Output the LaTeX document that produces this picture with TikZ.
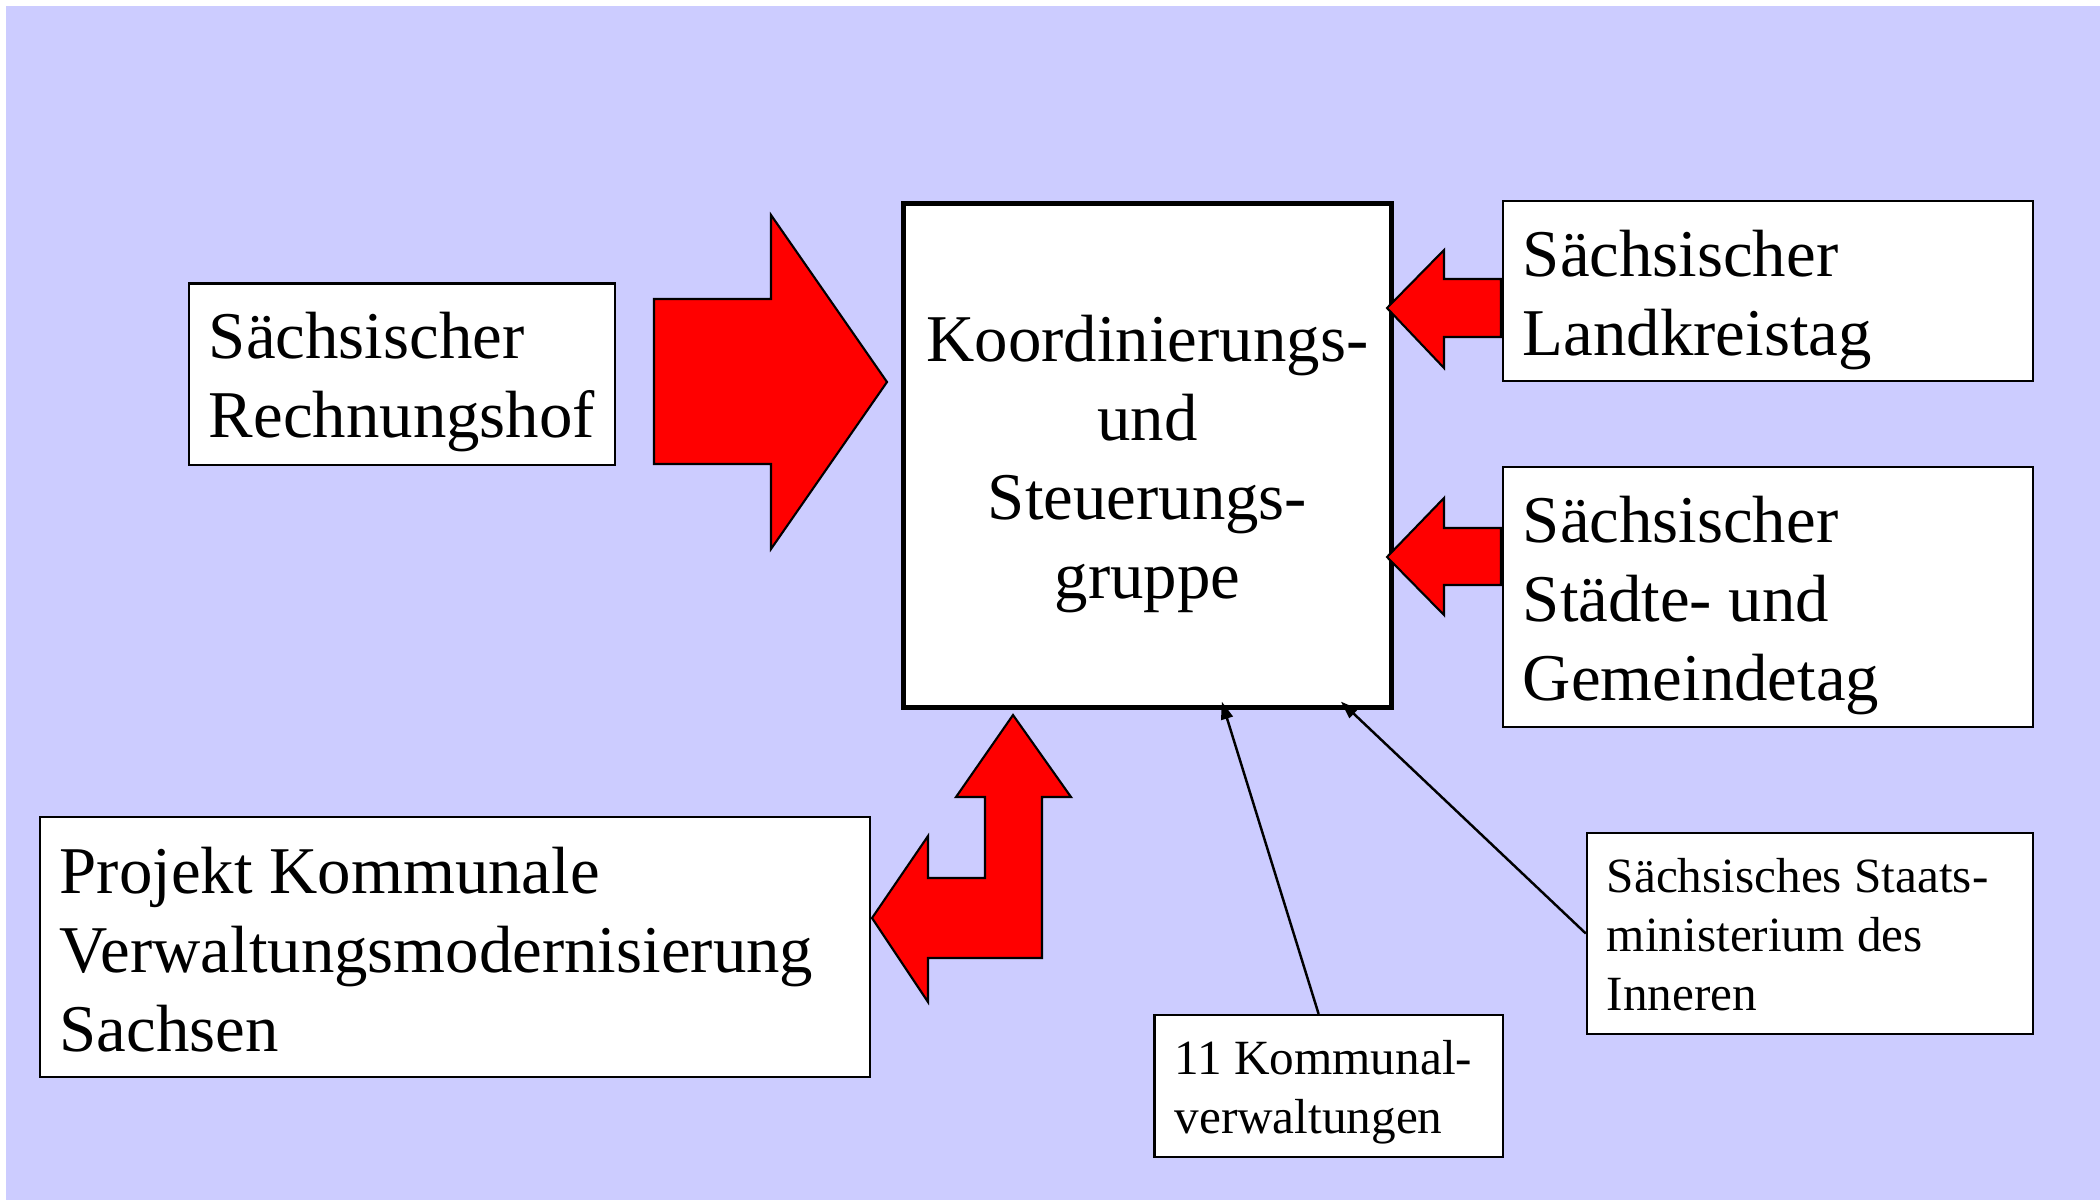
\documentclass[tikz,border=0pt]{standalone}
\usepackage{fontspec}
\setmainfont{Liberation Serif}
\usetikzlibrary{calc,arrows.meta}
\definecolor{bgcol}{RGB}{204,204,255}
\definecolor{colR}{RGB}{255,0,0}
\tikzstyle{box}=[draw, fill=white, line width=0.6pt, inner xsep=0.2cm, inner ysep=0pt, align=flush left, font=\fontsize{19}{22.5}\selectfont]
\tikzstyle{smallbox}=[box, font=\fontsize{14}{16.8}\selectfont]
\tikzstyle{mainbox}=[box, line width=1.4pt, inner xsep=0.1cm, align=flush center]
\tikzstyle{tdown}=[execute at begin node={\rule{0pt}{\dimexpr0.7em+#1\relax}}]
\tikzstyle{blockarrow}=[fill=colR, draw=black, line width=0.6pt, line join=miter]
\tikzstyle{link}=[line width=0.7pt, -{Triangle[length=5pt,width=3.4pt]}]

\begin{document}
\begin{tikzpicture}[x=0.01cm, y=-0.01cm]
	\useasboundingbox (0,0) rectangle (2100,1200);
	\fill[bgcol] (6,6) rectangle (2100,1200);
	\node[box, tdown=4.6pt, text width=3.86cm, minimum height=1.81cm] (rh) at (402,374) {Sächsischer\\Rechnungshof};
	\node[mainbox, tdown=4.6pt, text width=4.67cm, minimum height=5.03cm] (main) at (1147.5,455.5) {Koordinierungs-\\und\\Steuerungs-\\gruppe};
	\node[box, tdown=5pt, text width=4.9cm, minimum height=1.80cm] (lkt) at (1768,291) {Sächsischer\\Landkreistag};
	\node[box, tdown=4.6pt, text width=4.9cm, minimum height=2.60cm] (sgt) at (1768,597) {Sächsischer\\Städte- und\\Gemeindetag};
	\node[box, tdown=1.5pt, text width=7.9cm, minimum height=2.60cm] (kvs) at (455,947) {Projekt Kommunale\\Verwaltungsmodernisierung\\Sachsen};
	\node[smallbox, tdown=3.4pt, text width=3.08cm, minimum height=1.42cm] (komm) at (1328.6,1086) {11~Kommunal-\\verwaltungen};
	\node[smallbox, tdown=0.7pt, text width=4.06cm, minimum height=2.01cm] (smi) at (1810,933.5) {Sächsisches~Staats-\\ministerium des\\Inneren};
	\draw[blockarrow] (654,299) -- (771,299) -- (771,215) -- (887,382) -- (771,549) -- (771,464) -- (654,464) -- cycle;
	\draw[blockarrow] (1501,279) -- (1444,279) -- (1444,250) -- (1387,308) -- (1444,368) -- (1444,337) -- (1501,337) -- cycle;
	\draw[blockarrow] (1501,528) -- (1444,528) -- (1444,498) -- (1387,557) -- (1444,615) -- (1444,585) -- (1501,585) -- cycle;
	\draw[blockarrow] (1013,715) -- (1071,797) -- (1042,797) -- (1042,958) -- (928,958) -- (928,1002) -- (872,918) -- (928,836) -- (928,878) -- (985,878) -- (985,797) -- (956,797) -- cycle;
	\draw[link] ([xshift=-0.1cm]komm.north) -- ($(main.south west)!0.651!(main.south east)+(0,-8)$);
	\draw[link] (smi.west) -- ($(main.south west)!0.893!(main.south east)+(0,-8)$);
\end{tikzpicture}
\end{document}
